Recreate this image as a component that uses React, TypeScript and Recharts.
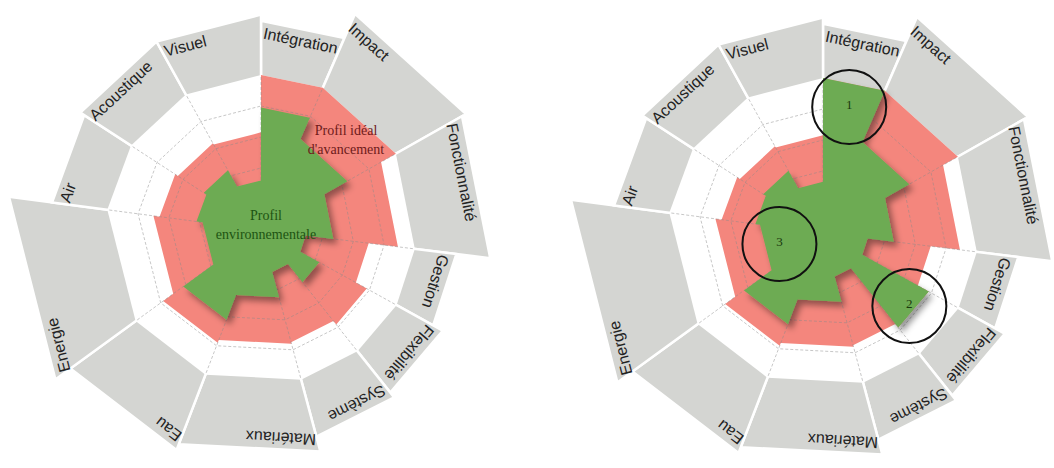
import React from 'react';
import { RadarChart, Radar, PolarAngleAxis, PolarRadiusAxis } from 'recharts';

// secteurs de la roue, dans le sens horaire depuis le haut
const secteurs = [
  'Intégration', 'Impact', 'Fonctionnalité', 'Gestion', 'Flexibilité', 'Système',
  'Matériaux', 'Eau', 'Energie', 'Air', 'Acoustique', 'Visuel',
];
// limites angulaires des secteurs (degrés, sens horaire depuis le haut)
const bornes = [0, 23.5, 60.5, 97, 119, 141.5, 165, 201, 234, 277.5, 303, 331, 360];
// poids de chaque cible (bord extérieur gris)
const poids = [6.75, 7.6, 7.45, 6.35, 6.7, 6.9, 7.4, 7.6, 8.2, 6.8, 6.95, 6.95];
// profil idéal d'avancement
const profilIdeal = [5, 5, 4.45, 3.5, 3.9, 3.75, 3.8, 3.9, 3.5, 3.3, 3.2, 3.15];
// profil environnemental : avant / après
const profilAvant = [3.95, 3.2, 2.35, 1.45, 2.15, 1.4, 2.25, 3.1, 1.9, 2.1, 2.2, 1.6];
const profilApres = [5, 3.2, 2.3, 1.45, 3.9, 1.45, 2.3, 3.15, 2.05, 2.2, 2.3, 1.65];

const reperes = [
  { secteur: 'Intégration', niveau: 4.15, texte: '1' },
  { secteur: 'Flexibilité', niveau: 3.65, texte: '2' },
  { secteur: 'Energie', niveau: 1.45, texte: '3' },
];
const legendes = [
  { lignes: ['Profil idéal', "d'avancement"], couleur: '#6e1a1a' },
  { lignes: ['Profil', 'environnementale'], couleur: '#1d5412' },
];
const posLegendes = [{ dx: 85, dy: -100 }, { dx: 5, dy: -15 }];

const NIVEAU_LIMITE = 5;
const NIVEAU_MAX = 9;
const RAYON_MAX = 279;
const anneaux = [1, 2, 3, 4];

const GRIS = '#d4d5d2';
const ROSE = '#f4867d';
const VERT = '#6dab53';
const RAD = Math.PI / 180;

const construireDonnees = (profil: number[]) =>
  secteurs.flatMap((nom, i) =>
    [bornes[i], bornes[i + 1]].map((angle) => ({
      nom,
      angle,
      poids: poids[i],
      ideal: profilIdeal[i],
      env: profil[i],
      limite: NIVEAU_LIMITE,
    }))
  );

const polaire = (cx: number, cy: number, r: number, angle: number) => ({
  x: cx + r * Math.cos(-angle * RAD),
  y: cy + r * Math.sin(-angle * RAD),
});

const Secteurs = (props: any) => {
  const pts = props.points;
  const coins = [];
  const textes = [];
  for (let i = 0; i + 1 < pts.length; i += 2) {
    const a = pts[i];
    const b = pts[i + 1];
    const cap = 90 - (a.angle + b.angle) / 2;
    const t = cap * RAD;
    const x = a.x + Math.cos(t) * 5 - Math.sin(t) * 17;
    const y = a.y + Math.sin(t) * 5 + Math.cos(t) * 17;
    coins.push(
      <polygon key={'s' + i} points={`${a.cx},${a.cy} ${a.x},${a.y} ${b.x},${b.y}`}
        fill={GRIS} stroke="#fff" strokeWidth={2.5} />
    );
    textes.push(
      <text key={'t' + i} x={x} y={y} transform={`rotate(${cap} ${x} ${y})`}
        fontSize={16} fontFamily="'Liberation Sans', Arial, sans-serif" fill="#222">
        {a.payload.nom}
      </text>
    );
  }
  return <g>{coins}{textes}</g>;
};

const Grille = (props: any) => {
  const pts = props.points;
  const { cx, cy } = pts[0];
  return (
    <g stroke="#8a8a8a" strokeOpacity={0.6} strokeWidth={0.8} strokeDasharray="3 2" fill="none">
      {anneaux.map((k) => (
        <polygon key={k} points={pts.map((p: any) => {
          const f = k / p.value;
          return `${cx + (p.x - cx) * f},${cy + (p.y - cy) * f}`;
        }).join(' ')} />
      ))}
      {pts.filter((_: any, i: number) => i % 2 === 0).map((p: any, i: number) => (
        <line key={'r' + i} x1={cx} y1={cy} x2={p.x} y2={p.y} />
      ))}
    </g>
  );
};

const formeProfil = (idFiltre: string) => (props: any) => (
  <g>
    <defs>
      <filter id={idFiltre} x="-20%" y="-20%" width="140%" height="140%">
        <feDropShadow dx={4} dy={5} stdDeviation={3} floodColor="#000" floodOpacity={0.4} />
      </filter>
    </defs>
    <polygon points={props.points.map((p: any) => `${p.x},${p.y}`).join(' ')}
      fill={VERT} filter={`url(#${idFiltre})`} />
  </g>
);

const AnnotationsAvant = (props: any) => {
  const { cx, cy } = props.points[0];
  return (
    <g fontFamily="'Liberation Serif', 'Times New Roman', serif" fontSize={14} textAnchor="middle">
      {legendes.map((l, i) => l.lignes.map((ligne, j) => (
        <text key={i + '-' + j} x={cx + posLegendes[i].dx} y={cy + posLegendes[i].dy + j * 19}
          dominantBaseline="central" fill={l.couleur}>{ligne}</text>
      )))}
    </g>
  );
};

const AnnotationsApres = (props: any) => {
  const pts = props.points;
  return (
    <g>
      {reperes.map((r) => {
        const i = secteurs.indexOf(r.secteur) * 2;
        const a = pts[i];
        const b = pts[i + 1];
        const rayon = (a.radius / a.value) * r.niveau;
        const c = polaire(a.cx, a.cy, rayon, (a.angle + b.angle) / 2);
        return (
          <g key={r.texte}>
            <circle cx={c.x} cy={c.y} r={37} fill="none" stroke="#111" strokeWidth={2} />
            <text x={c.x} y={c.y - 3} textAnchor="middle" dominantBaseline="central" fontSize={13}
              fontFamily="'Liberation Serif', 'Times New Roman', serif" fill="#1b3a0e">{r.texte}</text>
          </g>
        );
      })}
    </g>
  );
};

const Roue = ({ profil, idFiltre, cx, cy, annotations }: any) => (
  <RadarChart width={527} height={468} cx={cx} cy={cy} outerRadius={RAYON_MAX}
    startAngle={90} endAngle={-270} margin={{ top: 0, right: 0, bottom: 0, left: 0 }}
    data={construireDonnees(profil)}>
    <PolarAngleAxis dataKey="angle" type="number" domain={[0, 360]} tick={false} axisLine={false} />
    <PolarRadiusAxis domain={[0, NIVEAU_MAX]} tick={false} axisLine={false} />
    <Radar dataKey="poids" shape={Secteurs} isAnimationActive={false} />
    <Radar dataKey="limite" fill="#fff" fillOpacity={1} stroke="none" isAnimationActive={false} />
    <Radar dataKey="ideal" fill={ROSE} fillOpacity={1} stroke="none" isAnimationActive={false} />
    <Radar dataKey={(d: any) => d.limite} shape={Grille} isAnimationActive={false} />
    <Radar dataKey="env" shape={formeProfil(idFiltre)} isAnimationActive={false} />
    <Radar dataKey={(d: any) => d.limite} shape={annotations} isAnimationActive={false} />
  </RadarChart>
);

export default function App() {
  return (
    <div style={{ position: 'absolute', left: 0, top: 0, width: 1054, height: 468, background: '#fff', display: 'flex' }}>
      <Roue profil={profilAvant} idFiltre="ombre-avant" cx={261} cy={230} annotations={AnnotationsAvant} />
      <Roue profil={profilApres} idFiltre="ombre-apres" cx={296} cy={233} annotations={AnnotationsApres} />
    </div>
  );
}
